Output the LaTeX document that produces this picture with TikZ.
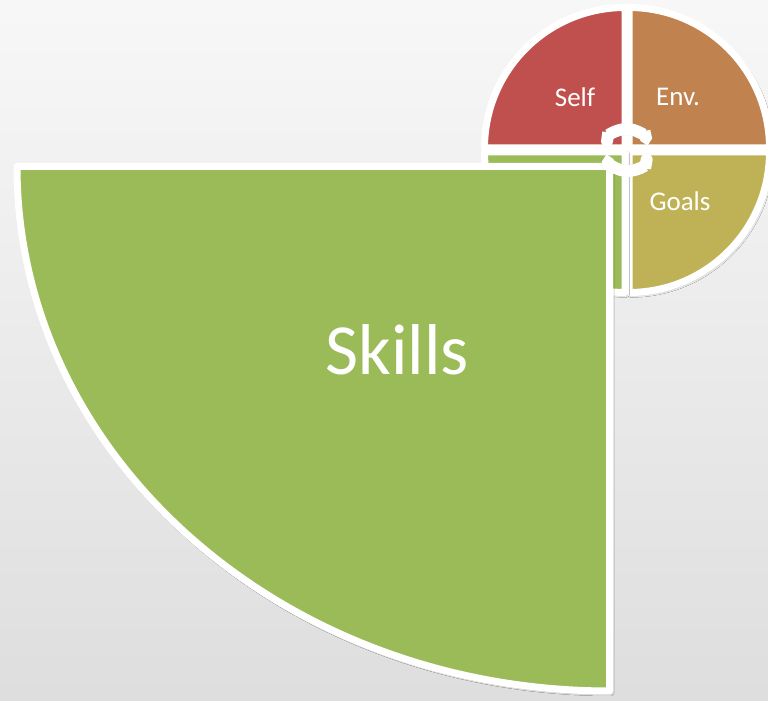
\documentclass[tikz,border=0pt]{standalone}
\usepackage{fontspec}
\setmainfont{Carlito}
\usetikzlibrary{arrows.meta,shadows.blur}

\definecolor{selfred}{HTML}{C0504D}
\definecolor{envbrown}{HTML}{C0824F}
\definecolor{goalolive}{HTML}{BFB256}
\definecolor{skillgreen}{HTML}{9BBB59}

\begin{document}
\begin{tikzpicture}[x=1pt,y=1pt,
 part/.style={draw=white,line width=7pt,line join=round,blur shadow={shadow xshift=1.5pt,shadow yshift=-2pt,shadow blur radius=3pt,shadow opacity=30}},
 lbl/.style={text=white,font=\fontsize{27}{30}\selectfont},
 turn/.style={draw=white,line width=12pt,{Round Cap}-{Triangle Cap[]}},
 turnshade/.style={turn,draw=black,opacity=.12,shift={(1.5,-2.5)}}]
\shade[top color=black!3,bottom color=black!13] (0,0) rectangle (768,701);
\useasboundingbox (0,0) rectangle (768,701);
\coordinate (c) at (627,551);
\path[part,fill=selfred] ([shift={(-2,2)}]c) -- ++(-140.5,0) arc[start angle=180,end angle=90,radius=140.5] -- cycle;
\path[part,fill=envbrown] ([shift={(2,2)}]c) -- ++(0,140.5) arc[start angle=90,end angle=0,radius=140.5] -- cycle;
\path[part,fill=goalolive] ([shift={(2,-2)}]c) -- ++(140.5,0) arc[start angle=0,end angle=-90,radius=140.5] -- cycle;
\path[part,fill=skillgreen] ([shift={(-2,-2)}]c) -- ++(0,-140.5) arc[start angle=270,end angle=180,radius=140.5] -- cycle;
\coordinate (k) at (609.5,534.5);
\path[part,fill=skillgreen] (k) -- ++(-592.5,0) arc[start angle=180,end angle=270,x radius=592.5,y radius=524.5] -- cycle;
\draw[turnshade] (c) ++(172:21) arc[start angle=172,end angle=12,radius=21];
\draw[turnshade] (c) ++(-10:21) arc[start angle=-10,end angle=-168,radius=21];
\draw[turn] (c) ++(172:21) arc[start angle=172,end angle=12,radius=21];
\draw[turn] (c) ++(-10:21) arc[start angle=-10,end angle=-168,radius=21];
\node[lbl] (self) at (575,604) {Self};
\node[lbl] (env) at (678,604) {Env.};
\node[lbl] (goals) at (680,500) {Goals};
\node[text=white,font=\fontsize{72}{80}\selectfont] (skills) at (397,351) {Skills};
\end{tikzpicture}
\end{document}
